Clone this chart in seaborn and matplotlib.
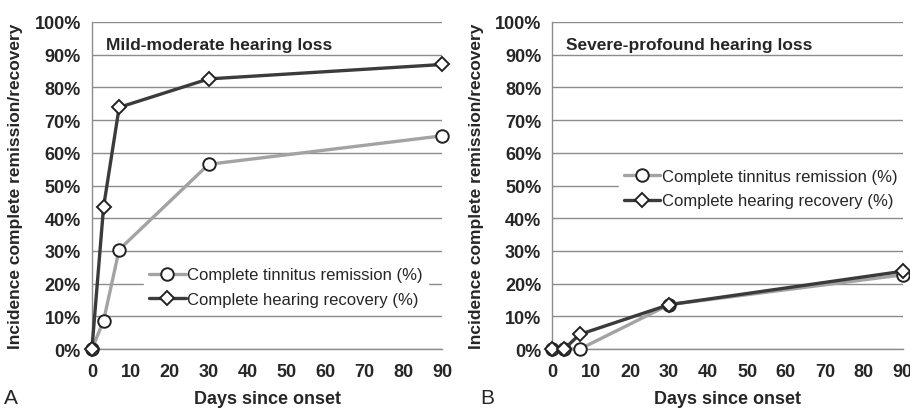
import matplotlib
matplotlib.use("Agg")
import matplotlib.pyplot as plt
from matplotlib.ticker import PercentFormatter
import seaborn as sns

# Data
days = [0, 3, 7, 30, 90]
tinnitus_mild = [0, 8.7, 30.4, 56.5, 65.2]
hearing_mild = [0, 43.5, 73.9, 82.6, 87.0]
tinnitus_severe = [0, 0, 0, 13.6, 22.7]
hearing_severe = [0, 0, 4.5, 13.6, 23.8]
panel_titles = ["Mild-moderate hearing loss", "Severe-profound hearing loss"]
panel_letters = ["A", "B"]

sns.set_style("white")
plt.rcParams['font.family'] = ["Liberation Sans", "DejaVu Sans"]

fig = plt.figure(figsize=(9.1, 4.1), dpi=100)
ax1 = fig.add_axes([0.101, 0.146, 0.385, 0.798])
ax2 = fig.add_axes([0.607, 0.146, 0.385, 0.798])

light = "#a3a3a3"
dark = "#3b3b3b"
grid = "#8c8c8c"

panels = [(ax1, tinnitus_mild, hearing_mild, (0.125, 0.19)),
          (ax2, tinnitus_severe, hearing_severe, (0.165, 0.49))]

for i, (ax, tin, hea, legpos) in enumerate(panels):
    sns.lineplot(x=days, y=tin, ax=ax, color=light, lw=2.4, marker="o",
                 markersize=9, markerfacecolor="white", markeredgecolor="#222222",
                 markeredgewidth=1.4, clip_on=False, zorder=3,
                 label="Complete tinnitus remission (%)")
    sns.lineplot(x=days, y=hea, ax=ax, color=dark, lw=2.4, marker="D",
                 markersize=7.5, markerfacecolor="white", markeredgecolor="#222222",
                 markeredgewidth=1.4, clip_on=False, zorder=4,
                 label="Complete hearing recovery (%)")
    ax.set_xlim(0, 90)
    ax.set_ylim(0, 100)
    ax.set_xticks(range(0, 91, 10))
    ax.set_yticks(range(0, 101, 10))
    ax.yaxis.set_major_formatter(PercentFormatter(decimals=0))
    ax.grid(axis="y", color=grid, lw=1)
    ax.set_axisbelow(True)
    for s in ["top", "right"]:
        ax.spines[s].set_visible(False)
    for s in ["left", "bottom"]:
        ax.spines[s].set_color(grid)
        ax.spines[s].set_linewidth(1)
    ax.tick_params(axis="x", which="major", direction="out", length=5,
                   color=grid, width=1, labelsize=13, pad=5)
    ax.tick_params(axis="y", length=0, labelsize=13, pad=8)
    for lab in ax.get_xticklabels() + ax.get_yticklabels():
        lab.set_fontweight("bold")
    ax.set_xlabel("Days since onset", fontsize=13, fontweight="bold", labelpad=7)
    ax.set_ylabel("Incidence complete remission/recovery", fontsize=12.5,
                  fontweight="bold", labelpad=8)
    ax.text(0.04, 0.93, panel_titles[i], transform=ax.transAxes, fontsize=12.5,
            fontweight="bold", va="center", ha="left")
    leg = ax.legend(loc="center left", bbox_to_anchor=legpos, frameon=True,
                    fontsize=12, handlelength=2.2, handletextpad=0.1,
                    borderpad=0.3, labelspacing=0.55, fancybox=False)
    leg.get_frame().set_edgecolor("white")
    leg.get_frame().set_facecolor("white")
    leg.get_frame().set_alpha(1)

fig.text(0.004, 0.005, panel_letters[0], fontsize=15, ha="left", va="bottom")
fig.text(0.528, 0.005, panel_letters[1], fontsize=15, ha="left", va="bottom")

fig.savefig("out.png", dpi=100)
